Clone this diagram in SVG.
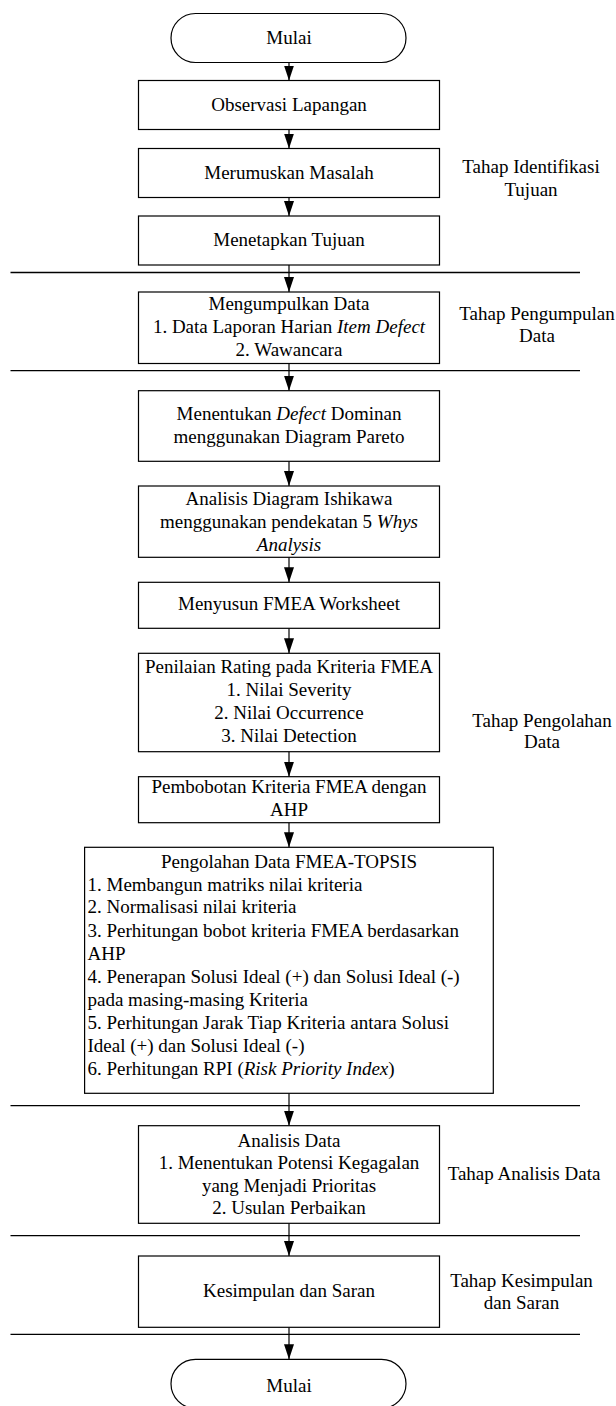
<svg xmlns="http://www.w3.org/2000/svg" width="616" height="1406" viewBox="0 0 616 1406">
<style>
text{font-family:"Liberation Serif","Times New Roman",serif;font-size:19px;fill:#000}
.c{text-anchor:middle}
.l{text-anchor:start}
.box{fill:#fff;stroke:#000;stroke-width:1.2}
.sep{stroke:#000;stroke-width:1.3}
.con{stroke:#000;stroke-width:1.2;fill:none;marker-end:url(#ah)}
</style>
<defs>
<marker id="ah" markerUnits="userSpaceOnUse" markerWidth="15" markerHeight="10" refX="15" refY="5" orient="auto" viewBox="0 0 15 10">
<path d="M0,0 L15,5 L0,10 Z" fill="#000"/>
</marker>
</defs>
<rect width="616" height="1406" fill="#fff"/>
<g id="separators">
<line class="sep" x1="10.5" y1="272.5" x2="580" y2="272.5"/>
<line class="sep" x1="10.5" y1="370.7" x2="580" y2="370.7"/>
<line class="sep" x1="10.5" y1="1105.7" x2="580" y2="1105.7"/>
<line class="sep" x1="10.5" y1="1235.7" x2="580" y2="1235.7"/>
<line class="sep" x1="10.5" y1="1334.3" x2="580" y2="1334.3"/>
</g>
<g id="connectors">
<line class="con" x1="289" y1="62.5" x2="289" y2="80.5"/>
<line class="con" x1="289" y1="129.5" x2="289" y2="148.5"/>
<line class="con" x1="289" y1="197.5" x2="289" y2="216"/>
<line class="con" x1="289" y1="265" x2="289" y2="292"/>
<line class="con" x1="289" y1="363.5" x2="289" y2="390.7"/>
<line class="con" x1="289" y1="461.3" x2="289" y2="486"/>
<line class="con" x1="289" y1="557.3" x2="289" y2="582.3"/>
<line class="con" x1="289" y1="628.3" x2="289" y2="653.3"/>
<line class="con" x1="289" y1="751.7" x2="289" y2="776.7"/>
<line class="con" x1="289" y1="822.7" x2="289" y2="847.3"/>
<line class="con" x1="289" y1="1093.3" x2="289" y2="1125.7"/>
<line class="con" x1="289" y1="1223.3" x2="289" y2="1256"/>
<line class="con" x1="289" y1="1327.3" x2="289" y2="1359.3"/>
</g>
<g id="start">
<rect class="box" x="171" y="13.5" width="235" height="49" rx="24.5" ry="24.5"/>
<text class="c" x="289" y="43.5">Mulai</text>
</g>
<g id="observasi">
<rect class="box" x="138.5" y="80.5" width="301" height="49"/>
<text class="c" x="289" y="111">Observasi Lapangan</text>
</g>
<g id="merumuskan">
<rect class="box" x="138.5" y="148.5" width="301" height="49"/>
<text class="c" x="289" y="178.5">Merumuskan Masalah</text>
</g>
<g id="menetapkan">
<rect class="box" x="138.5" y="216" width="301" height="49"/>
<text class="c" x="289" y="246">Menetapkan Tujuan</text>
</g>
<g id="mengumpulkan">
<rect class="box" x="138.5" y="292" width="301" height="71.5"/>
<text class="c" x="289" y="310">Mengumpulkan Data</text>
<text class="c" x="289" y="333">1. Data Laporan Harian <tspan font-style="italic">Item Defect</tspan></text>
<text class="c" x="289" y="356">2. Wawancara</text>
</g>
<g id="pareto">
<rect class="box" x="138.5" y="390.7" width="301" height="70.6"/>
<text class="c" x="289" y="420">Menentukan <tspan font-style="italic">Defect</tspan> Dominan</text>
<text class="c" x="289" y="442.7">menggunakan Diagram Pareto</text>
</g>
<g id="ishikawa">
<rect class="box" x="138.5" y="486" width="301" height="71.3"/>
<text class="c" x="289" y="505">Analisis Diagram Ishikawa</text>
<text class="c" x="289" y="528">menggunakan pendekatan 5 <tspan font-style="italic">Whys</tspan></text>
<text class="c" x="289" y="550.5" font-style="italic">Analysis</text>
</g>
<g id="fmea-worksheet">
<rect class="box" x="138.5" y="582.3" width="301" height="46"/>
<text class="c" x="289" y="610">Menyusun FMEA Worksheet</text>
</g>
<g id="penilaian">
<rect class="box" x="138.5" y="653.3" width="301" height="98.4"/>
<text class="c" x="289" y="673.3">Penilaian Rating pada Kriteria FMEA</text>
<text class="c" x="289" y="696">1. Nilai Severity</text>
<text class="c" x="289" y="718.7">2. Nilai Occurrence</text>
<text class="c" x="289" y="741.5">3. Nilai Detection</text>
</g>
<g id="pembobotan">
<rect class="box" x="138.5" y="776.7" width="301" height="46"/>
<text class="c" x="289" y="793.3">Pembobotan Kriteria FMEA dengan</text>
<text class="c" x="289" y="816">AHP</text>
</g>
<g id="topsis">
<rect class="box" x="84.6" y="847.3" width="408.7" height="246"/>
<text class="c" x="289" y="868.3">Pengolahan Data FMEA-TOPSIS</text>
<text class="l" x="87.5" y="890.7">1. Membangun matriks nilai kriteria</text>
<text class="l" x="87.5" y="913.3">2. Normalisasi nilai kriteria</text>
<text class="l" x="87.5" y="936.7">3. Perhitungan bobot kriteria FMEA berdasarkan</text>
<text class="l" x="87.5" y="960">AHP</text>
<text class="l" x="87.5" y="983.3">4. Penerapan Solusi Ideal (+) dan Solusi Ideal (-)</text>
<text class="l" x="87.5" y="1006">pada masing-masing Kriteria</text>
<text class="l" x="87.5" y="1029.3">5. Perhitungan Jarak Tiap Kriteria antara Solusi</text>
<text class="l" x="87.5" y="1051.7">Ideal (+) dan Solusi Ideal (-)</text>
<text class="l" x="87.5" y="1075">6. Perhitungan RPI (<tspan font-style="italic">Risk Priority Index</tspan>)</text>
</g>
<g id="analisis">
<rect class="box" x="138.5" y="1125.7" width="301" height="97.6"/>
<text class="c" x="289" y="1146.7">Analisis Data</text>
<text class="c" x="289" y="1169.3">1. Menentukan Potensi Kegagalan</text>
<text class="c" x="289" y="1191.7">yang Menjadi Prioritas</text>
<text class="c" x="289" y="1214">2. Usulan Perbaikan</text>
</g>
<g id="kesimpulan">
<rect class="box" x="138.5" y="1256" width="301" height="71.3"/>
<text class="c" x="289" y="1297.3">Kesimpulan dan Saran</text>
</g>
<g id="end">
<rect class="box" x="171" y="1359.3" width="235" height="49" rx="24.5" ry="24.5"/>
<text class="c" x="289" y="1391.7">Mulai</text>
</g>
<g id="stage-labels">
<text class="c" x="531" y="173">Tahap Identifikasi</text>
<text class="c" x="531" y="195.7">Tujuan</text>
<text class="c" x="537" y="320">Tahap Pengumpulan</text>
<text class="c" x="537" y="342">Data</text>
<text class="c" x="542" y="726.7">Tahap Pengolahan</text>
<text class="c" x="542" y="748">Data</text>
<text class="c" x="524" y="1180">Tahap Analisis Data</text>
<text class="c" x="521.5" y="1286.7">Tahap Kesimpulan</text>
<text class="c" x="521.5" y="1309.3">dan Saran</text>
</g>
</svg>
